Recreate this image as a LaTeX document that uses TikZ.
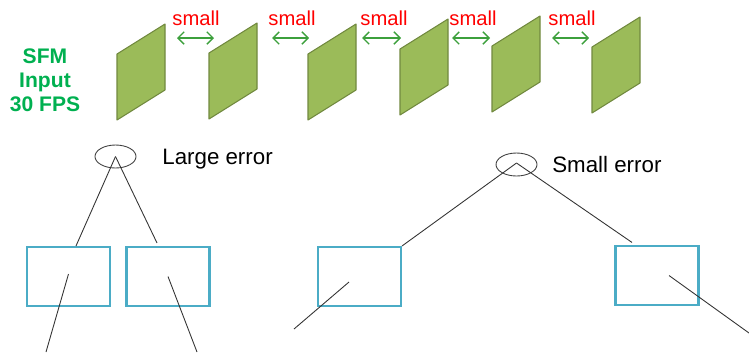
\documentclass[tikz,border=0pt]{standalone}
\usepackage{fontspec}
\setmainfont{Liberation Sans}
\usetikzlibrary{arrows.meta,shapes.geometric}

\definecolor{framegreen}{HTML}{9BBB59}
\definecolor{framedark}{HTML}{71893F}
\definecolor{gapgreen}{HTML}{3CA03C}
\definecolor{sfmgreen}{HTML}{00B050}
\definecolor{leafblue}{HTML}{4BACC6}

\tikzset{
	vframe/.style={fill=framegreen, draw=framedark, line width=0.6pt, line join=round},
	gap/.style={draw=gapgreen, line width=0.8pt, {Straight Barb[length=3.5pt,width=7pt]}-{Straight Barb[length=3.5pt,width=7pt]}},
	smalltxt/.style={text=red, font=\fontsize{11.5}{13}\selectfont, inner sep=0pt},
	errtxt/.style={font=\fontsize{12.7}{15}\selectfont, inner sep=0pt, anchor=base west},
	errnode/.style={ellipse, draw=black!75, line width=0.5pt, minimum width=0.82cm, minimum height=0.46cm, inner sep=0pt},
	leaf/.style={rectangle, draw=leafblue, line width=1.2pt, minimum width=1.66cm, minimum height=1.18cm, inner sep=0pt},
	branch/.style={draw=black!80, line width=0.5pt}
}

\begin{document}
\begin{tikzpicture}[x=0.02cm, y=-0.02cm]
		%%%%% START %%%%%
		\useasboundingbox (0,0) rectangle (749,356);
		
		% input label
		\node[text=sfmgreen, font=\bfseries\fontsize{12}{13.6}\selectfont, align=center] (sfm) at (45,80) {SFM\\Input\\30 FPS};
		
		% video frames
		\foreach \x/\y in {117/54, 209/53, 308/54, 400/49, 492/46, 592/47}
			\draw[vframe] (\x,\y) -- ++(48,-30) -- ++(0,66) -- ++(-48,30) -- cycle;
		
		% gaps between neighbouring frames
		\foreach \a/\b/\c in {177/214/196, 272/309/292, 362/401/384, 452/490/473, 552/589/572} {
			\draw[gap] (\a,38) -- (\b,38);
			\node[smalltxt] at (\c,18) {small};
		}
		
		% large error tree
		\node[errnode] (lerr) at (115.5,156.5) {};
		\node[errtxt] (ltxt) at (162,164) {Large error};
		\node[leaf] (ba) at (68.5,276.5) {};
		\node[leaf] (bb) at (168,276.5) {};
		\draw[branch] (lerr.center) -- ([xshift=0.15cm]ba.north);
		\draw[branch] (lerr.center) -- ([xshift=-0.22cm,yshift=0.06cm]bb.north);
		\coordinate (ea) at (46,352);
		\coordinate (eb) at (197,352);
		\draw[branch] ([yshift=0.05cm]ba.center) -- (ea);
		\draw[branch] (bb.center) -- (eb);
		
		% small error tree
		\node[errnode] (serr) at (516.5,164.5) {};
		\node[errtxt] (stxt) at (552,172) {Small error};
		\node[leaf] (bc) at (359.5,276.5) {};
		\node[leaf] (bd) at (657,275.5) {};
		\draw[branch] ([yshift=0.03cm]serr.center) -- (bc.north east);
		\draw[branch] ([yshift=0.03cm]serr.center) -- ([xshift=-0.5cm,yshift=0.05cm]bd.north);
		\coordinate (ec) at (294,329);
		\coordinate (ed) at (749,333);
		\draw[branch] ([shift={(-10.5,5.5)}]bc.center) -- (ec);
		\draw[branch] ([xshift=0.24cm]bd.center) -- (ed);
		
		%%%%% END %%%%%
	\end{tikzpicture}
\end{document}
